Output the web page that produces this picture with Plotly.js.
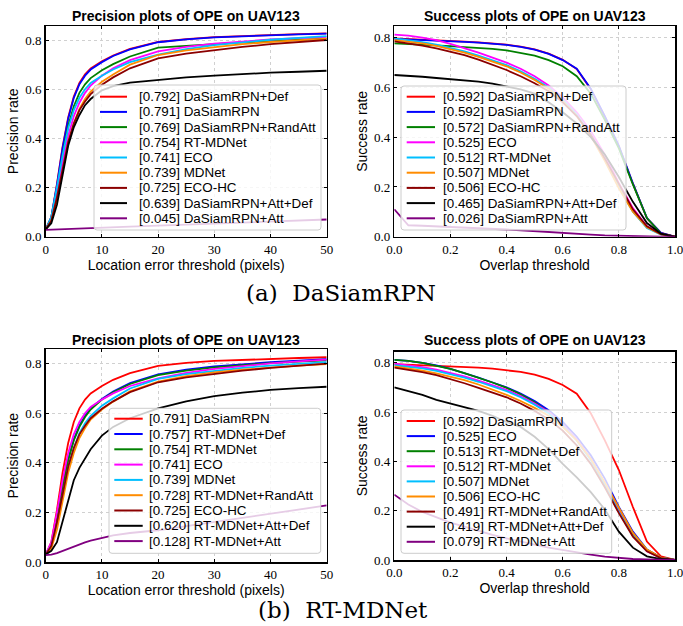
<!DOCTYPE html>
<html><head><meta charset="utf-8">
<script src="https://cdn.plot.ly/plotly-3.0.1.min.js"></script>
<style>html,body{margin:0;padding:0;background:#fff}#chart{width:683px;height:626px}</style>
</head><body><div id="chart"></div>
<script>
// ---------------- data ----------------
const precX = [0,1,2,3,4,5,6,7,8,10,12,15,20,25,30,35,40,45,50];
const succX = [0,0.05,0.1,0.15,0.2,0.25,0.3,0.35,0.4,0.45,0.5,0.55,0.6,0.65,0.7,0.75,0.8,0.85,0.9,0.95,1.0];

const precTicks = [0,10,20,30,40,50];
const precTickText = ['0','10','20','30','40','50'];
const rateTicks = [0,0.2,0.4,0.6,0.8];
const rateTickText = ['0.0','0.2','0.4','0.6','0.8'];
const overlapTicks = [0,0.2,0.4,0.6,0.8,1.0];
const overlapTickText = ['0.0','0.2','0.4','0.6','0.8','1.0'];

// precision curves (location error threshold in pixels)
const P_DaSiamRPN_Def = [0.03,0.08,0.215,0.365,0.485,0.57,0.625,0.66,0.684,0.713,0.737,0.764,0.792,0.804,0.812,0.817,0.821,0.824,0.827];
const P_DaSiamRPN = [0.03,0.08,0.21,0.36,0.48,0.565,0.62,0.655,0.68,0.71,0.735,0.762,0.791,0.803,0.811,0.816,0.82,0.823,0.826];
const P_DaSiamRPN_RandAtt = [0.03,0.075,0.19,0.33,0.45,0.53,0.585,0.62,0.645,0.677,0.702,0.733,0.769,0.777,0.783,0.79,0.796,0.801,0.806];
const P_RTMDNet = [0.03,0.07,0.17,0.30,0.41,0.49,0.545,0.585,0.615,0.655,0.685,0.718,0.754,0.772,0.785,0.795,0.802,0.808,0.813];
const P_ECO = [0.03,0.08,0.20,0.33,0.44,0.515,0.565,0.60,0.625,0.655,0.68,0.71,0.741,0.763,0.779,0.791,0.801,0.809,0.816];
const P_MDNet = [0.03,0.065,0.15,0.27,0.38,0.46,0.52,0.56,0.59,0.63,0.66,0.70,0.739,0.758,0.772,0.783,0.792,0.80,0.806];
const P_ECOHC = [0.03,0.065,0.16,0.28,0.385,0.46,0.515,0.55,0.58,0.618,0.648,0.685,0.725,0.745,0.76,0.772,0.783,0.792,0.80];
const P_DaSiamRPN_AttDef = [0.03,0.055,0.13,0.25,0.37,0.445,0.495,0.535,0.56,0.595,0.612,0.627,0.639,0.648,0.655,0.662,0.667,0.671,0.675];
const P_DaSiamRPN_Att = [0.028,0.029,0.03,0.031,0.032,0.033,0.034,0.035,0.036,0.037,0.039,0.041,0.045,0.049,0.053,0.057,0.061,0.065,0.07];
const P_RTMDNet_Def = [0.03,0.07,0.175,0.305,0.415,0.495,0.55,0.59,0.62,0.658,0.688,0.722,0.757,0.776,0.789,0.799,0.806,0.812,0.818];
const P_RTMDNet_RandAtt = [0.03,0.055,0.13,0.25,0.36,0.44,0.50,0.54,0.575,0.615,0.647,0.688,0.728,0.75,0.765,0.776,0.785,0.792,0.798];
const P_RTMDNet_AttDef = [0.03,0.045,0.08,0.16,0.25,0.33,0.38,0.42,0.455,0.51,0.545,0.58,0.62,0.648,0.669,0.683,0.694,0.701,0.707];
const P_RTMDNet_Att = [0.028,0.03,0.036,0.045,0.054,0.063,0.071,0.079,0.086,0.098,0.107,0.117,0.128,0.145,0.162,0.178,0.195,0.212,0.228];

// success curves (overlap threshold)
const S_DaSiamRPN_Def = [0.797,0.795,0.792,0.79,0.787,0.784,0.781,0.777,0.772,0.764,0.753,0.736,0.711,0.674,0.593,0.483,0.363,0.213,0.074,0.015,0];
const S_DaSiamRPN = [0.795,0.793,0.79,0.788,0.786,0.783,0.78,0.776,0.771,0.763,0.752,0.735,0.71,0.675,0.595,0.485,0.365,0.215,0.075,0.015,0];
const S_DaSiamRPN_RandAtt = [0.777,0.775,0.772,0.769,0.766,0.762,0.759,0.755,0.749,0.74,0.728,0.71,0.685,0.645,0.575,0.47,0.355,0.21,0.075,0.012,0];
const S_ECO = [0.812,0.808,0.80,0.79,0.775,0.758,0.74,0.72,0.70,0.675,0.645,0.608,0.56,0.50,0.425,0.33,0.215,0.115,0.042,0.01,0];
const S_RTMDNet = [0.797,0.79,0.782,0.772,0.76,0.745,0.728,0.71,0.69,0.665,0.635,0.60,0.55,0.49,0.41,0.31,0.20,0.10,0.035,0.008,0];
const S_MDNet = [0.79,0.785,0.777,0.767,0.755,0.74,0.723,0.705,0.685,0.66,0.63,0.595,0.545,0.485,0.405,0.305,0.195,0.10,0.038,0.009,0];
const S_ECOHC = [0.785,0.778,0.768,0.757,0.745,0.73,0.712,0.692,0.67,0.645,0.617,0.585,0.54,0.485,0.41,0.315,0.21,0.11,0.042,0.01,0];
const S_DaSiamRPN_AttDef = [0.65,0.647,0.643,0.638,0.633,0.628,0.623,0.615,0.605,0.592,0.575,0.54,0.50,0.455,0.40,0.33,0.24,0.14,0.055,0.012,0];
const S_DaSiamRPN_Att = [0.11,0.046,0.044,0.042,0.04,0.038,0.035,0.032,0.029,0.026,0.022,0.018,0.014,0.011,0.008,0.005,0.003,0.002,0.001,0,0];
const S_RTMDNet_Def = [0.812,0.808,0.80,0.788,0.775,0.758,0.74,0.72,0.698,0.672,0.64,0.60,0.55,0.488,0.41,0.31,0.205,0.105,0.04,0.01,0];
const S_RTMDNet_RandAtt = [0.78,0.772,0.762,0.75,0.735,0.717,0.698,0.68,0.66,0.635,0.605,0.57,0.525,0.465,0.39,0.295,0.19,0.095,0.035,0.008,0];
const S_RTMDNet_AttDef = [0.70,0.685,0.67,0.65,0.635,0.62,0.605,0.585,0.56,0.54,0.50,0.45,0.39,0.335,0.275,0.205,0.115,0.05,0.015,0.004,0];
const S_RTMDNet_Att = [0.265,0.225,0.195,0.172,0.152,0.135,0.118,0.102,0.088,0.074,0.062,0.05,0.04,0.03,0.022,0.014,0.008,0.004,0.002,0.001,0];

// legend names and scores (ranked)
const namesPrecA = ['DaSiamRPN+Def','DaSiamRPN','DaSiamRPN+RandAtt','RT-MDNet','ECO','MDNet','ECO-HC','DaSiamRPN+Att+Def','DaSiamRPN+Att'];
const scoresPrecA = [0.792,0.791,0.769,0.754,0.741,0.739,0.725,0.639,0.045];
const namesSuccA = ['DaSiamRPN+Def','DaSiamRPN','DaSiamRPN+RandAtt','ECO','RT-MDNet','MDNet','ECO-HC','DaSiamRPN+Att+Def','DaSiamRPN+Att'];
const scoresSuccA = [0.592,0.592,0.572,0.525,0.512,0.507,0.506,0.465,0.026];
const namesPrecB = ['DaSiamRPN','RT-MDNet+Def','RT-MDNet','ECO','MDNet','RT-MDNet+RandAtt','ECO-HC','RT-MDNet+Att+Def','RT-MDNet+Att'];
const scoresPrecB = [0.791,0.757,0.754,0.741,0.739,0.728,0.725,0.620,0.128];
const namesSuccB = ['DaSiamRPN','ECO','RT-MDNet+Def','RT-MDNet','MDNet','ECO-HC','RT-MDNet+RandAtt','RT-MDNet+Att+Def','RT-MDNet+Att'];
const scoresSuccB = [0.592,0.525,0.513,0.512,0.507,0.506,0.491,0.419,0.079];

const colors = ['#ff0000','#0000ff','#008000','#ff00ff','#00bfff','#ff8c00','#8b0000','#000000','#800080'];

// ---------------- build ----------------
const W = 683, H = 626;
const px = v => v / W;
const py = v => 1 - v / H;

const panels = [
  {xa:'x', ya:'y', xs:precX, names:namesPrecA, scores:scoresPrecA,
   ys:[P_DaSiamRPN_Def,P_DaSiamRPN,P_DaSiamRPN_RandAtt,P_RTMDNet,P_ECO,P_MDNet,P_ECOHC,P_DaSiamRPN_AttDef,P_DaSiamRPN_Att],
   leg:{box:[94,321,85,230], first:96.7, step:15.2, l0:100, l1:127, tx:137.7}},
  {xa:'x2', ya:'y2', xs:succX, names:namesSuccA, scores:scoresSuccA,
   ys:[S_DaSiamRPN_Def,S_DaSiamRPN,S_DaSiamRPN_RandAtt,S_ECO,S_RTMDNet,S_MDNet,S_ECOHC,S_DaSiamRPN_AttDef,S_DaSiamRPN_Att],
   leg:{box:[401,626,86,230], first:96.7, step:15.2, l0:406.7, l1:435, tx:441.7}},
  {xa:'x3', ya:'y3', xs:precX, names:namesPrecB, scores:scoresPrecB,
   ys:[P_DaSiamRPN,P_RTMDNet_Def,P_RTMDNet,P_ECO,P_MDNet,P_RTMDNet_RandAtt,P_ECOHC,P_RTMDNet_AttDef,P_RTMDNet_Att],
   leg:{box:[109,320.7,408.3,553.3], first:418.7, step:15.3, l0:114.3, l1:142.7, tx:148.3}},
  {xa:'x4', ya:'y4', xs:succX, names:namesSuccB, scores:scoresSuccB,
   ys:[S_DaSiamRPN,S_ECO,S_RTMDNet_Def,S_RTMDNet,S_MDNet,S_ECOHC,S_RTMDNet_RandAtt,S_RTMDNet_AttDef,S_RTMDNet_Att],
   leg:{box:[401,611.7,410,553.3], first:421, step:15.1, l0:406.7, l1:435, tx:441.7}}
];

const traces = [];
const shapes = [];
const annotations = [];
const legendFont = {family:'Liberation Sans, Arial, sans-serif', size:13.4, color:'#000'};

panels.forEach(p => {
  p.ys.forEach((ys, i) => {
    traces.push({
      type:'scatter', mode:'lines', x:p.xs, y:ys, xaxis:p.xa, yaxis:p.ya,
      name:'[' + p.scores[i].toFixed(3) + '] ' + p.names[i],
      line:{color:colors[i], width:1.8}, showlegend:false, hoverinfo:'skip'
    });
  });
  const b = p.leg.box, r = 3;
  const x0 = px(b[0]), x1 = px(b[1]), y0 = py(b[3]), y1 = py(b[2]);
  const rx = r / W, ry = r / H;
  shapes.push({type:'path', xref:'paper', yref:'paper', layer:'above',
    path:`M ${x0+rx},${y0} L ${x1-rx},${y0} Q ${x1},${y0} ${x1},${y0+ry} L ${x1},${y1-ry} Q ${x1},${y1} ${x1-rx},${y1} L ${x0+rx},${y1} Q ${x0},${y1} ${x0},${y1-ry} L ${x0},${y0+ry} Q ${x0},${y0} ${x0+rx},${y0} Z`,
    fillcolor:'rgba(255,255,255,0.8)', line:{color:'#cccccc', width:1}});
  p.names.forEach((n, i) => {
    const yy = py(p.leg.first + i * p.leg.step);
    shapes.push({type:'line', xref:'paper', yref:'paper', layer:'above',
      x0:px(p.leg.l0), x1:px(p.leg.l1), y0:yy, y1:yy, line:{color:colors[i], width:2}});
    annotations.push({xref:'paper', yref:'paper', x:px(p.leg.tx), y:yy, xanchor:'left', yanchor:'middle',
      text:'[' + p.scores[i].toFixed(3) + '] ' + n, showarrow:false, font:legendFont, borderpad:0});
  });
});

const tickFont = {family:'Liberation Serif, Times New Roman, serif', size:13, color:'#000'};
const titleFont = {family:'Liberation Sans, Arial, sans-serif', size:14, color:'#000'};

function axis(extra) {
  return Object.assign({
    showline:true, linecolor:'#000', linewidth:1.5, mirror:'ticks',
    ticks:'inside', ticklen:3, tickcolor:'#000', tickwidth:1,
    showgrid:true, gridcolor:'#d0d0d0', griddash:'dot', gridwidth:1,
    zeroline:false, tickfont:tickFont, automargin:false, fixedrange:true,
    ticklabeloverflow:'allow'
  }, extra);
}

const xDomL = [px(45.7), px(326.7)], xDomR = [px(394.3), px(675)];
const yDomT = [py(236.7), py(26)];
const yDomBL = [py(562), py(349.3)], yDomBR = [py(560), py(351.7)];

const layout = {
  width:W, height:H, margin:{l:0,r:0,t:0,b:0}, paper_bgcolor:'#fff', plot_bgcolor:'#fff',
  showlegend:false,
  xaxis: axis({domain:xDomL, range:[0,50.0001], anchor:'y', tickvals:precTicks, ticktext:precTickText,
    title:{text:'Location error threshold (pixels)', font:titleFont, standoff:0}}),
  yaxis: axis({domain:yDomT, range:[0,0.857], anchor:'x', tickvals:rateTicks, ticktext:rateTickText,
    title:{text:'Precision rate', font:titleFont, standoff:3}}),
  xaxis2: axis({domain:xDomR, range:[0,1.00001], anchor:'y2', tickvals:overlapTicks, ticktext:overlapTickText,
    title:{text:'Overlap threshold', font:titleFont, standoff:0}}),
  yaxis2: axis({domain:yDomT, range:[0,0.847], anchor:'x2', tickvals:rateTicks, ticktext:rateTickText,
    title:{text:'Success rate', font:titleFont, standoff:3}}),
  xaxis3: axis({domain:xDomL, range:[0,50.0001], anchor:'y3', tickvals:precTicks, ticktext:precTickText,
    title:{text:'Location error threshold (pixels)', font:titleFont, standoff:0}}),
  yaxis3: axis({domain:yDomBL, range:[0,0.858], anchor:'x3', tickvals:rateTicks, ticktext:rateTickText,
    title:{text:'Precision rate', font:titleFont, standoff:3}}),
  xaxis4: axis({domain:xDomR, range:[0,1.00001], anchor:'y4', tickvals:overlapTicks, ticktext:overlapTickText,
    title:{text:'Overlap threshold', font:titleFont, standoff:0}}),
  yaxis4: axis({domain:yDomBR, range:[0,0.845], anchor:'x4', tickvals:rateTicks, ticktext:rateTickText,
    title:{text:'Success rate', font:titleFont, standoff:3}}),
  shapes: shapes,
  annotations: annotations.concat([
    {xref:'paper', yref:'paper', x:(xDomL[0]+xDomL[1])/2, y:py(16.5), xanchor:'center', yanchor:'middle', showarrow:false,
     text:'<b>Precision plots of OPE on UAV123</b>', font:{family:'Liberation Sans, Arial, sans-serif', size:14, color:'#000'}},
    {xref:'paper', yref:'paper', x:(xDomR[0]+xDomR[1])/2, y:py(16.5), xanchor:'center', yanchor:'middle', showarrow:false,
     text:'<b>Success plots of OPE on UAV123</b>', font:{family:'Liberation Sans, Arial, sans-serif', size:14, color:'#000'}},
    {xref:'paper', yref:'paper', x:(xDomL[0]+xDomL[1])/2, y:py(339.5), xanchor:'center', yanchor:'middle', showarrow:false,
     text:'<b>Precision plots of OPE on UAV123</b>', font:{family:'Liberation Sans, Arial, sans-serif', size:14, color:'#000'}},
    {xref:'paper', yref:'paper', x:(xDomR[0]+xDomR[1])/2, y:py(340), xanchor:'center', yanchor:'middle', showarrow:false,
     text:'<b>Success plots of OPE on UAV123</b>', font:{family:'Liberation Sans, Arial, sans-serif', size:14, color:'#000'}},
    {xref:'paper', yref:'paper', x:px(341), y:py(293), xanchor:'center', yanchor:'middle', showarrow:false,
     text:'(a)\u00a0\u00a0DaSiamRPN', font:{family:'DejaVu Serif, serif', size:23, color:'#000'}},
    {xref:'paper', yref:'paper', x:px(343), y:py(610), xanchor:'center', yanchor:'middle', showarrow:false,
     text:'(b)\u00a0\u00a0RT-MDNet', font:{family:'DejaVu Serif, serif', size:23, color:'#000'}}
  ])
};

Plotly.newPlot('chart', traces, layout, {displayModeBar:false, staticPlot:true});
</script></body></html>
